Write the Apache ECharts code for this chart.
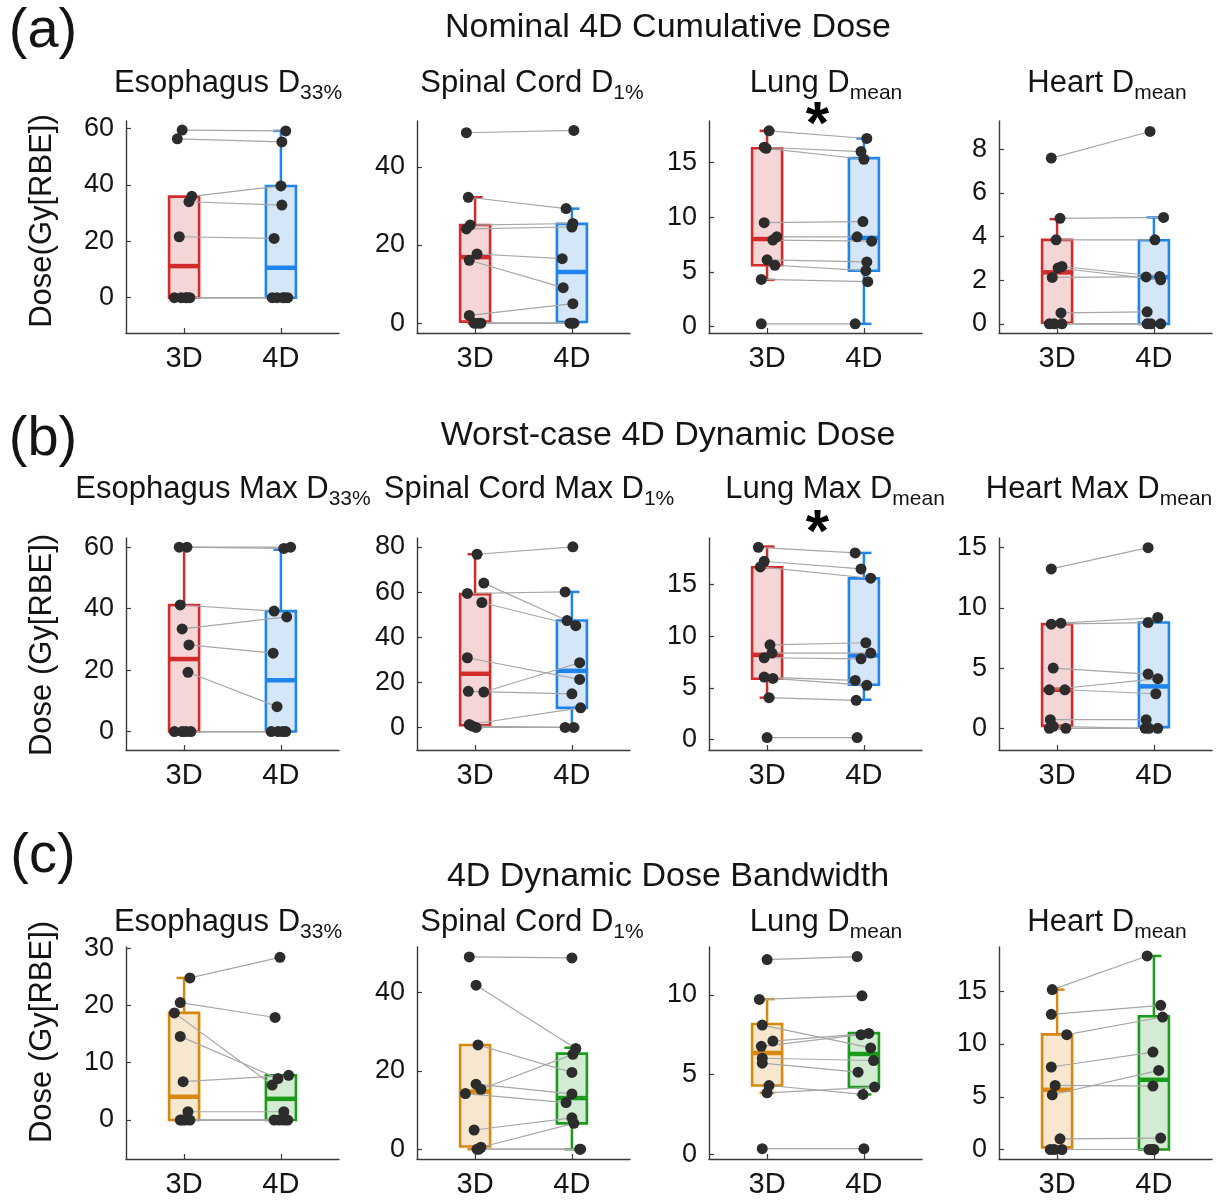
<!DOCTYPE html>
<html>
<head>
<meta charset="utf-8">
<title>3D vs 4D dose</title>
<script src="https://cdn.jsdelivr.net/npm/echarts@6/dist/echarts.min.js"></script>
<style>
  html, body { margin: 0; padding: 0; background: #fff; }
  #main { width: 1224px; height: 1200px; }
</style>
</head>
<body>
<div id="main"></div>
<script>
// ---- values (10 patients per panel, same order in 3D and 4D) ----
const groupLabels = ['3D', '4D'];
const rowTitles = ['Nominal 4D Cumulative Dose', 'Worst-case 4D Dynamic Dose', '4D Dynamic Dose Bandwidth'];
const panelTags = ['(a)', '(b)', '(c)'];
const yNames = ['Dose(Gy[RBE])', 'Dose (Gy[RBE])', 'Dose (Gy[RBE])'];
const panelTitles = [
  [['Esophagus D', '33%'], ['Spinal Cord D', '1%'], ['Lung D', 'mean'], ['Heart D', 'mean']],
  [['Esophagus Max D', '33%'], ['Spinal Cord Max D', '1%'], ['Lung Max D', 'mean'], ['Heart Max D', 'mean']],
  [['Esophagus D', '33%'], ['Spinal Cord D', '1%'], ['Lung D', 'mean'], ['Heart D', 'mean']]
];
// panels with a significance star (row, col)
const starPanels = [[0, 2], [1, 2]];

// (a) nominal 4D cumulative dose
const nominal3D = [
  [59.4, 56.3, 35.9, 34.0, 21.6, 0, 0, 0, 0, 0],
  [48.7, 32.2, 25.1, 24.1, 17.7, 16.1, 2.0, 0, 0, 0],
  [17.9, 16.4, 16.3, 9.5, 8.2, 7.9, 6.1, 5.6, 4.3, 0.24],
  [7.6, 4.84, 3.85, 2.63, 2.56, 2.13, 0.5, 0, 0, 0]
];
const nominal4D = [
  [59.1, 55.2, 39.6, 32.8, 21.0, 0, 0, 0, 0, 0],
  [49.3, 29.3, 25.5, 24.6, 16.5, 9.1, 5.0, 0, 0, 0],
  [17.2, 16.0, 15.3, 9.6, 8.2, 7.8, 5.9, 5.1, 4.1, 0.24],
  [8.82, 4.88, 3.85, 2.17, 2.02, 2.15, 0.55, 0, 0, 0]
];
const nominalJit3D = [
  [-0.02, -0.07, 0.08, 0.05, -0.05, -0.1, -0.03, 0.02, 0.06, 0.03],
  [-0.09, -0.07, -0.05, -0.09, 0.02, -0.06, -0.06, -0.01, 0.06, 0.03],
  [0.02, -0.03, -0.01, -0.03, 0.1, 0.06, 0, 0.08, -0.06, -0.06],
  [-0.06, 0.03, -0.01, 0.05, 0.01, -0.05, 0.04, -0.08, 0.05, -0.03]
];
const nominalJit4D = [
  [0.05, 0.01, 0, 0.01, -0.07, -0.09, -0.04, 0.02, 0.07, 0.04],
  [0.02, -0.06, 0.01, 0, -0.1, -0.09, 0.01, 0, -0.02, 0.02],
  [0.03, -0.03, 0, -0.01, -0.07, 0.08, 0.03, 0.02, 0.04, -0.09],
  [-0.04, 0.1, 0.01, 0.06, 0.07, -0.08, -0.07, -0.07, -0.03, 0.07]
];
// box stats: [lower whisker, q1, median, q3, upper whisker]
const nominalBox3D = [[0, 0, 11.2, 35.8, 35.8], [0, 0.4, 16.9, 25.1, 32.2], [4.26, 5.6, 8.0, 16.3, 17.9], [0, 0.05, 2.36, 3.85, 4.8]];
const nominalBox4D = [[0, 0, 10.6, 39.6, 59.1], [0, 0.3, 13.1, 25.4, 29.3], [0.24, 5.1, 8.1, 15.4, 17.2], [0, 0, 2.14, 3.83, 4.88]];
const nominalTicks = [[0, 20, 40, 60], [0, 20, 40], [0, 5, 10, 15], [0, 2, 4, 6, 8]];
const nominalRange = [[-12.5, 62.6], [-2.5, 51.7], [-0.6, 18.8], [-0.42, 9.3]];

// (b) worst-case 4D dynamic dose
const worst3D = [
  [60, 60, 41.2, 33.4, 28.2, 19.3, 0, 0, 0, 0],
  [76.8, 59.4, 64.0, 55.4, 30.9, 16.0, 15.7, 1.3, 0.6, 0],
  [18.6, 17.25, 16.7, 9.17, 8.37, 7.92, 6.05, 5.92, 4.06, 0.2],
  [13.23, 8.65, 8.73, 5.0, 3.2, 3.2, 0.72, 0.17, 0, 0]
];
const worst4D = [
  [59.6, 60, 39.2, 37.3, 25.5, 8.1, 0, 0, 0, 0],
  [80.1, 60.1, 47.4, 45.1, 21.3, 14.9, 28.7, 8.7, 0, 0],
  [18.06, 16.51, 15.61, 9.37, 8.37, 7.82, 5.73, 5.25, 3.8, 0.2],
  [15.0, 8.78, 9.2, 4.5, 4.12, 2.87, 0.72, 0, 0, 0]
];
const worstJit3D = [
  [-0.05, 0.03, -0.04, -0.02, 0.05, 0.04, -0.1, -0.02, 0.07, 0.02],
  [0.02, -0.08, 0.09, 0.07, -0.08, -0.07, 0.09, -0.06, -0.03, 0.01],
  [-0.09, -0.03, -0.07, 0.03, 0.05, -0.03, -0.03, 0.06, 0.02, 0],
  [-0.06, -0.06, 0.04, -0.04, -0.08, 0.08, -0.07, -0.04, -0.08, 0.09]
];
const worstJit4D = [
  [0.03, 0.1, -0.07, 0.06, -0.08, -0.04, -0.1, 0.02, -0.03, 0.05],
  [0.01, -0.07, -0.05, 0.04, 0.08, 0, 0.08, 0.09, -0.07, 0.02],
  [-0.09, -0.03, 0.07, 0.02, 0.07, -0.03, -0.09, 0.03, -0.08, -0.07],
  [-0.06, -0.06, 0.04, -0.06, 0.04, 0.02, -0.08, -0.09, 0.04, -0.05]
];
const worstBox3D = [[0, 0, 23.6, 41.2, 60], [0, 1.0, 23.8, 59.1, 76.8], [4.06, 5.89, 8.2, 16.67, 18.67], [0, 0.2, 3.2, 8.65, 8.65]];
const worstBox4D = [[0, 0, 16.7, 39.2, 59.2], [0, 8.7, 25.1, 47.4, 60.1], [3.86, 5.31, 8.14, 15.6, 18.06], [0, 0.1, 3.48, 8.78, 8.78]];
const worstTicks = [[0, 20, 40, 60], [0, 20, 40, 60, 80], [0, 5, 10, 15], [0, 5, 10, 15]];
const worstRange = [[-6, 63], [-10, 84], [-1, 19.5], [-1.8, 15.8]];

// (c) 4D dynamic dose bandwidth
const band3D = [
  [24.8, 20.5, 18.7, 14.6, 6.7, 1.45, 0, 0, 0, 0],
  [49.07, 41.86, 26.6, 16.6, 15.3, 14.2, 4.9, 0.5, 0, 0],
  [12.21, 9.71, 8.1, 7.1, 6.77, 6.02, 5.71, 4.31, 3.85, 0.35],
  [15.16, 12.82, 10.89, 7.82, 6.08, 5.19, 1.01, 0, 0, 0]
];
const band4D = [
  [28.4, 17.9, 6.1, 7.25, 7.8, 1.45, 0, 0, 0, 0],
  [48.8, 25.7, 19.6, 14.1, 24.2, 11.9, 8.0, 6.6, 0, 0],
  [12.4, 9.94, 6.67, 7.58, 7.5, 5.88, 5.15, 3.75, 4.21, 0.35],
  [18.35, 13.67, 12.56, 9.24, 6.01, 7.5, 1.08, 0, 0, 0]
];
const bandJit3D = [
  [0.06, -0.04, -0.1, -0.04, -0.01, 0.04, -0.04, 0.01, 0.06, -0.02],
  [-0.06, 0.01, 0.03, 0.01, 0.06, -0.1, -0.01, 0.06, 0.04, 0.02],
  [0, -0.08, -0.05, 0.06, -0.06, -0.05, -0.05, 0.02, 0, -0.05],
  [-0.05, -0.06, 0.1, -0.06, -0.02, -0.05, 0.03, -0.07, -0.03, 0.05]
];
const bandJit4D = [
  [-0.01, -0.06, -0.09, -0.03, 0.08, 0.03, -0.07, -0.02, 0.03, 0.07],
  [0, 0.04, 0, 0, 0.01, -0.06, 0, 0.02, 0.09, 0.08],
  [-0.07, -0.02, 0.07, 0.05, -0.03, 0.1, -0.06, -0.01, 0.11, 0],
  [-0.07, 0.07, 0.09, -0.01, -0.01, 0.05, 0.07, -0.05, 0, -0.02]
];
const bandBox3D = [[0, 0, 4.06, 18.7, 24.8], [0, 0.7, 14.7, 26.6, 26.6], [3.85, 4.31, 6.35, 8.17, 9.73], [0, 0.2, 5.66, 10.92, 15.16]];
const bandBox4D = [[0, 0, 3.7, 7.8, 7.8], [0, 6.6, 13.05, 24.4, 25.9], [3.75, 4.21, 6.29, 7.6, 7.6], [0, 0, 6.61, 12.63, 18.35]];
const bandTicks = [[0, 10, 20, 30], [0, 20, 40], [0, 5, 10], [0, 5, 10, 15]];
const bandRange = [[-6.8, 30.2], [-2.5, 51.6], [-0.3, 13], [-0.9, 19.2]];

// ---- layout / style ----
const FONT = '"Liberation Sans", Arial, Helvetica, sans-serif';
const colLeft = [126, 417, 709, 999];
const rowTop = [121, 538, 947];
const plotW = 213, plotH = 212;
const titleY = [83, 489, 922];
// title centres as placed in the original figure
const titleX = [[228, 532, 826, 1107], [223, 529, 835, 1099], [228, 532, 826, 1107]];
const starDy = [5, -4];
const BOX_W = 0.31;
const AXIS_COLOR = '#3a3a3a';
const TEXT_COLOR = '#141414';

const rows = [
  { v3: nominal3D, v4: nominal4D, j3: nominalJit3D, j4: nominalJit4D, b3: nominalBox3D, b4: nominalBox4D,
    ticks: nominalTicks, range: nominalRange, edge: ['#D22B2B', '#1F84EC'], fill: ['#F5D6D6', '#D5E6F9'] },
  { v3: worst3D, v4: worst4D, j3: worstJit3D, j4: worstJit4D, b3: worstBox3D, b4: worstBox4D,
    ticks: worstTicks, range: worstRange, edge: ['#D22B2B', '#1F84EC'], fill: ['#F5D6D6', '#D5E6F9'] },
  { v3: band3D, v4: band4D, j3: bandJit3D, j4: bandJit4D, b3: bandBox3D, b4: bandBox4D,
    ticks: bandTicks, range: bandRange, edge: ['#D8870F', '#1B9A1B'], fill: ['#F8E7CF', '#D3EBD3'] }
];

function boxRenderer(edge, fill) {
  return function (params, api) {
    const x = api.value(0);
    const k = api.value(6);
    const pLo = api.coord([x, api.value(1)]);
    const pQ1 = api.coord([x, api.value(2)]);
    const pMd = api.coord([x, api.value(3)]);
    const pQ3 = api.coord([x, api.value(4)]);
    const pHi = api.coord([x, api.value(5)]);
    const w = api.size([BOX_W, 0])[0];
    const cx = pMd[0];
    const seg = (x1, y1, x2, y2, lw) => ({
      type: 'line', shape: { x1: x1, y1: y1, x2: x2, y2: y2 }, style: { stroke: edge[k], lineWidth: lw }
    });
    const kids = [];
    if (pHi[1] < pQ3[1] - 0.5) {
      kids.push(seg(cx, pQ3[1], cx, pHi[1], 2.5));
      kids.push(seg(cx - w / 4, pHi[1], cx + w / 4, pHi[1], 2.5));
    }
    if (pLo[1] > pQ1[1] + 0.5) {
      kids.push(seg(cx, pQ1[1], cx, pLo[1], 2.5));
      kids.push(seg(cx - w / 4, pLo[1], cx + w / 4, pLo[1], 2.5));
    }
    kids.push({
      type: 'rect',
      shape: { x: cx - w / 2, y: pQ3[1], width: w, height: Math.max(pQ1[1] - pQ3[1], 1) },
      style: { fill: fill[k], stroke: edge[k], lineWidth: 2.6 }
    });
    kids.push(seg(cx - w / 2, pMd[1], cx + w / 2, pMd[1], 4.5));
    return { type: 'group', children: kids };
  };
}

function pairRenderer(params, api) {
  const a = api.coord([api.value(0), api.value(1)]);
  const b = api.coord([api.value(2), api.value(3)]);
  return {
    type: 'line',
    shape: { x1: a[0], y1: a[1], x2: b[0], y2: b[1] },
    style: { stroke: '#A6A6A6', lineWidth: 1.2 }
  };
}

const measureCtx = document.createElement('canvas').getContext('2d');
function textWidth(text, size) {
  measureCtx.font = size + 'px ' + FONT;
  return measureCtx.measureText(text).width;
}

const grids = [], xAxes = [], yAxes = [], series = [], graphics = [];

rows.forEach(function (row, r) {
  for (let c = 0; c < 4; c++) {
    const g = r * 4 + c;
    grids.push({ left: colLeft[c], top: rowTop[r], width: plotW, height: plotH });
    xAxes.push({
      gridIndex: g, type: 'value', min: 0.4, max: 2.6,
      axisLine: { show: true, onZero: false, lineStyle: { color: AXIS_COLOR, width: 1.4 } },
      axisTick: { show: true, inside: true, length: 5, customValues: [1, 2], lineStyle: { color: AXIS_COLOR, width: 1.2 } },
      axisLabel: {
        customValues: [1, 2], formatter: function (v) { return groupLabels[Math.round(v) - 1]; },
        fontSize: 29, fontFamily: FONT, color: TEXT_COLOR, margin: 11
      },
      splitLine: { show: false }
    });
    yAxes.push({
      gridIndex: g, type: 'value', min: row.range[c][0], max: row.range[c][1],
      axisLine: { show: true, onZero: false, lineStyle: { color: AXIS_COLOR, width: 1.4 } },
      axisTick: { show: true, inside: true, length: 5, customValues: row.ticks[c], lineStyle: { color: AXIS_COLOR, width: 1.2 } },
      axisLabel: { customValues: row.ticks[c], fontSize: 27, fontFamily: FONT, color: TEXT_COLOR, margin: 12 },
      splitLine: { show: false }
    });

    series.push({
      type: 'custom', xAxisIndex: g, yAxisIndex: g, z: 2, silent: true,
      renderItem: boxRenderer(row.edge, row.fill),
      encode: { x: 0, y: [1, 2, 3, 4, 5] },
      data: [[1].concat(row.b3[c], [0]), [2].concat(row.b4[c], [1])]
    });
    series.push({
      type: 'custom', xAxisIndex: g, yAxisIndex: g, z: 3, silent: true,
      renderItem: pairRenderer,
      encode: { x: [0, 2], y: [1, 3] },
      data: row.v3[c].map(function (v, i) { return [1 + row.j3[c][i], v, 2 + row.j4[c][i], row.v4[c][i]]; })
    });
    series.push({
      type: 'scatter', xAxisIndex: g, yAxisIndex: g, z: 4, silent: true,
      symbol: 'circle', symbolSize: 11,
      itemStyle: { color: '#2c2c2c', opacity: 1 },
      data: row.v3[c].map(function (v, i) { return [1 + row.j3[c][i], v]; })
        .concat(row.v4[c].map(function (v, i) { return [2 + row.j4[c][i], v]; }))
    });

    // panel title with subscript
    const mainSize = 31, subSize = 21;
    const t = panelTitles[r][c];
    const wMain = textWidth(t[0], mainSize), wSub = textWidth(t[1], subSize);
    const x0 = titleX[r][c] - (wMain + wSub) / 2;
    graphics.push({
      type: 'text', x: x0, y: titleY[r], silent: true,
      style: { text: t[0], fontSize: mainSize, fontFamily: FONT, fill: TEXT_COLOR, align: 'left', verticalAlign: 'middle' }
    });
    graphics.push({
      type: 'text', x: x0 + wMain, y: titleY[r] + 10, silent: true,
      style: { text: t[1], fontSize: subSize, fontFamily: FONT, fill: TEXT_COLOR, align: 'left', verticalAlign: 'middle' }
    });
  }

  graphics.push({
    type: 'text', x: 668, y: [28, 436, 877][r], silent: true,
    style: { text: rowTitles[r], fontSize: 34, fontFamily: FONT, fill: TEXT_COLOR, align: 'center', verticalAlign: 'middle' }
  });
  graphics.push({
    type: 'text', x: 43, y: [32, 440, 857][r], silent: true,
    style: { text: panelTags[r], fontSize: 56, fontFamily: FONT, fill: TEXT_COLOR, align: 'center', verticalAlign: 'middle' }
  });
  graphics.push({
    type: 'text', x: 42, y: rowTop[r] + [100, 107, 85][r], rotation: Math.PI / 2, silent: true,
    style: { text: yNames[r], fontSize: 31, fontFamily: FONT, fill: TEXT_COLOR, align: 'center', verticalAlign: 'middle' }
  });
});

starPanels.forEach(function (p, i) {
  graphics.push({
    type: 'text', x: colLeft[p[1]] + plotW / 2 + 2, y: rowTop[p[0]] + starDy[i], silent: true,
    style: { text: '*', fontSize: 60, fontWeight: 'bold', fontFamily: FONT, fill: '#000', align: 'center', verticalAlign: 'middle' }
  });
});

const chart = echarts.init(document.getElementById('main'), null, { renderer: 'canvas' });
chart.setOption({
  animation: false,
  backgroundColor: '#ffffff',
  grid: grids,
  xAxis: xAxes,
  yAxis: yAxes,
  series: series,
  graphic: graphics
});
</script>
</body>
</html>
